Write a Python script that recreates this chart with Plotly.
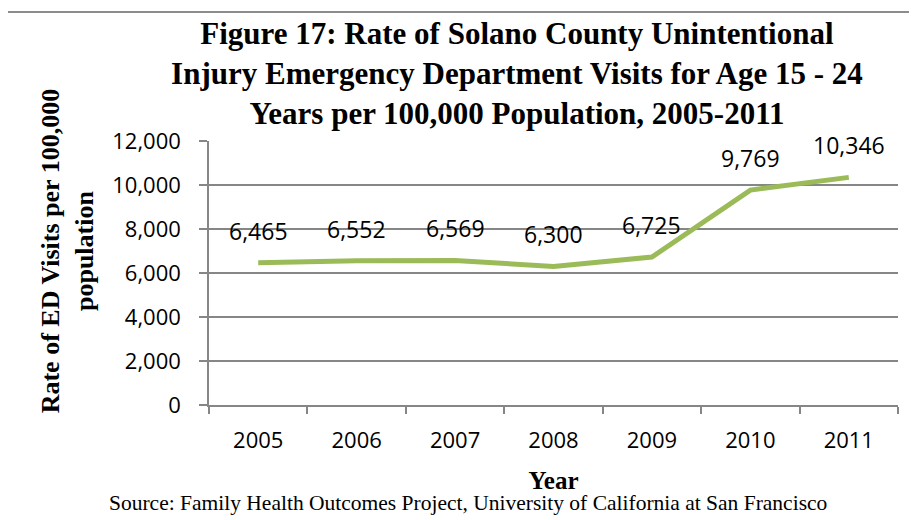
import plotly.graph_objects as go

years = ["2005", "2006", "2007", "2008", "2009", "2010", "2011"]
rates = [6465, 6552, 6569, 6300, 6725, 9769, 10346]
rate_labels = ["6,465", "6,552", "6,569", "6,300", "6,725", "9,769", "10,346"]

serif = "Liberation Serif"
sans = "Open Sans"

fig = go.Figure()
fig.add_trace(go.Scatter(
    x=years, y=rates, mode="lines",
    line=dict(color="#9BBB59", width=5),
    hoverinfo="skip", showlegend=False))

# data labels above each point (category index on x)
for i, (val, lab) in enumerate(zip(rates, rate_labels)):
    fig.add_annotation(x=i, y=val, text=lab, showarrow=False, yshift=32,
                       font=dict(family=sans, size=23, color="#000000"))

fig.update_layout(
    width=917, height=520,
    margin=dict(l=201, r=27, t=133, b=123, autoexpand=False),
    paper_bgcolor="white", plot_bgcolor="white",
    title=dict(
        text="Figure 17: Rate of Solano County Unintentional<br>"
             "Injury Emergency Department Visits for Age 15 - 24<br>"
             "Years per 100,000 Population, 2005-2011",
        font=dict(family=serif, size=31, color="#000000", weight="bold"),
        x=0.555, xanchor="center", y=0.931, yanchor="top"),
    font=dict(family=sans, color="#000000"),
)

fig.update_xaxes(
    type="category", range=[-0.5, 6.5], tickson="boundaries",
    automargin=False, tickangle=0,
    ticks="outside", ticklen=7, tickcolor="#868686", tickwidth=1.5,
    ticklabelstandoff=15,
    showline=True, linecolor="#868686", linewidth=1.5,
    showgrid=False,
    tickfont=dict(family=sans, size=22, color="#000000"),
    title=dict(text="Year", font=dict(family=serif, size=25, color="#000000", weight="bold"),
               standoff=18))

fig.update_yaxes(
    range=[0, 12000], dtick=2000, tickformat=",d", automargin=False,
    ticks="outside", ticklen=8, tickcolor="#868686", tickwidth=1.5,
    ticklabelstandoff=14,
    showline=True, linecolor="#868686", linewidth=1.5,
    showgrid=True, gridcolor="#868686", gridwidth=1.5,
    zeroline=False,
    tickfont=dict(family=sans, size=22, color="#000000"))

# y axis title, placed a bit above the plot centre as in the original
fig.add_annotation(
    xref="paper", yref="paper", x=-0.205, y=0.585, xanchor="center", yanchor="middle",
    textangle=-90, showarrow=False,
    text="<b>Rate of ED Visits per 100,000<br>population</b>",
    font=dict(family=serif, size=26, color="#000000"))

fig.add_annotation(
    xref="paper", yref="paper", x=0.376, y=-0.37, xanchor="center", yanchor="middle",
    text="Source: Family Health Outcomes Project, University of California at San Francisco",
    showarrow=False, font=dict(family=serif, size=21.5, color="#000000"))

fig.add_shape(type="rect", xref="paper", yref="paper",
              x0=-0.294, x1=1.06, y0=-0.52, y1=1.489,
              line=dict(color="#8C8C8C", width=2), layer="below")

fig.write_html("out.html")
